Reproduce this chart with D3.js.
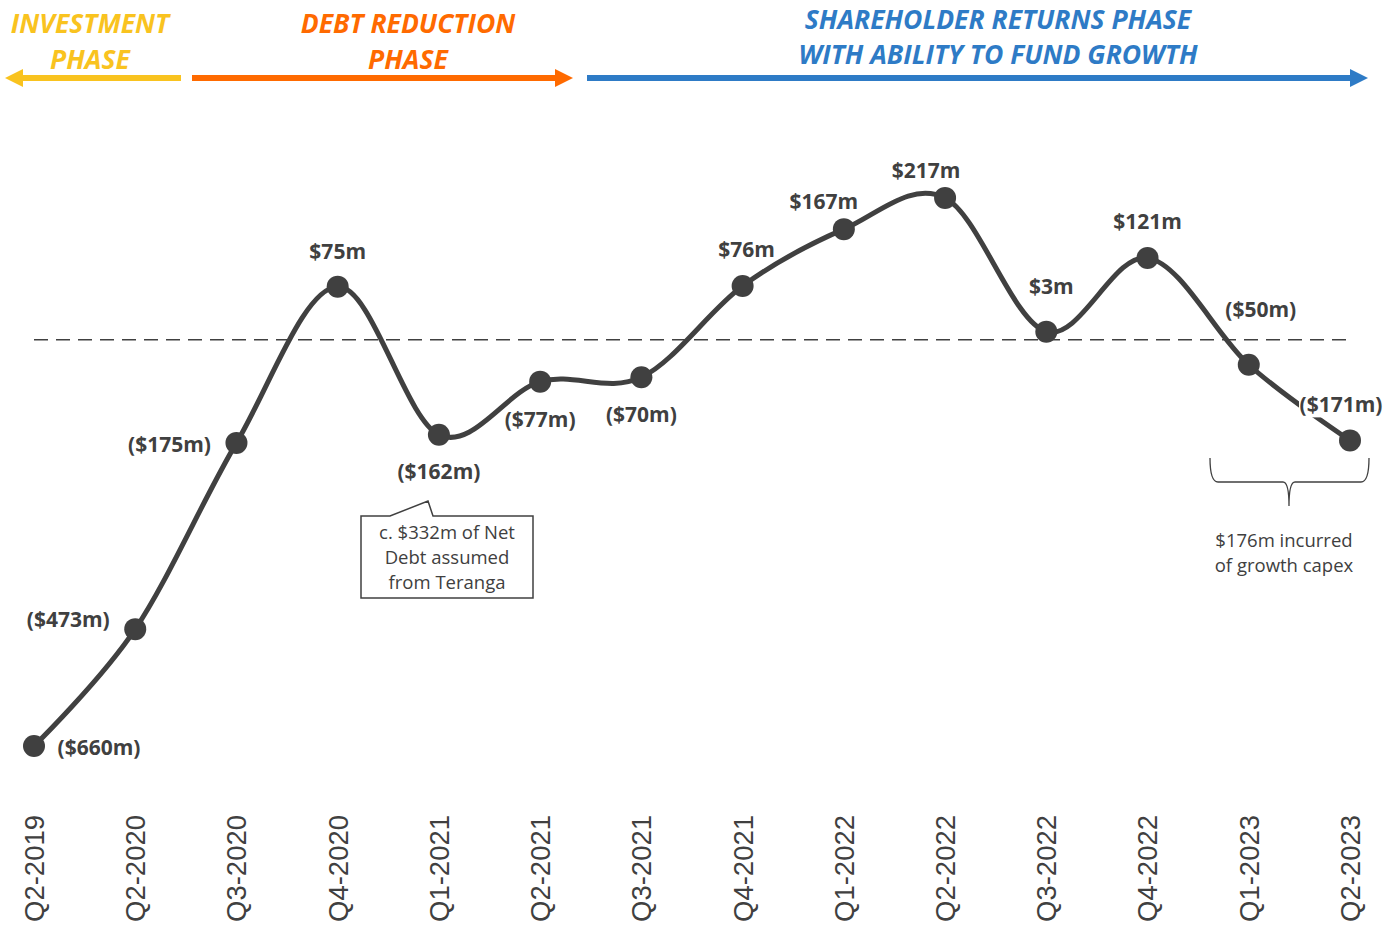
<!DOCTYPE html>
<html>
<head>
<meta charset="utf-8">
<script src="https://cdn.jsdelivr.net/npm/d3@7"></script>
<style>
  body { margin: 0; background: #fff; }
  .lbl { font-family: "Open Sans", sans-serif; font-weight: 700; font-size: 21px; fill: #404040; }
  .note { font-family: "Open Sans", sans-serif; font-size: 18.5px; fill: #404040; }
  .phase { font-family: "Open Sans", sans-serif; font-weight: 700; font-style: italic; font-size: 26.5px; }
  .tick { font-family: "Liberation Sans", Arial, sans-serif; font-size: 27.5px; fill: #404040; }
</style>
</head>
<body>
<div id="chart"></div>
<script>
// quarters on the x axis
var quarters = ["Q2-2019", "Q2-2020", "Q3-2020", "Q4-2020", "Q1-2021", "Q2-2021", "Q3-2021",
  "Q4-2021", "Q1-2022", "Q2-2022", "Q3-2022", "Q4-2022", "Q1-2023", "Q2-2023"];
// net cash (+) / net debt (-), $m
var netCash = [-660, -473, -175, 75, -162, -77, -70, 76, 167, 217, 3, 121, -50, -171];
var labels = ["($660m)", "($473m)", "($175m)", "$75m", "($162m)", "($77m)", "($70m)",
  "$76m", "$167m", "$217m", "$3m", "$121m", "($50m)", "($171m)"];
var refValue = -10;   // dashed reference line

var phases = ["INVESTMENT|PHASE", "DEBT REDUCTION|PHASE", "SHAREHOLDER RETURNS PHASE|WITH ABILITY TO FUND GROWTH"];

// label offsets from each point (layout only)
var labelOffsets = [[65, 2], [-67, -9], [-67, 2], [0, -35], [0, 37], [0, 38], [0, 37],
  [4, -36], [-20, -27], [-19, -27], [5, -45], [0, -36], [12, -55], [-9, -36]];

var svgWidth = 1386;
var svgHeight = 925;

var svg = d3.select("#chart")
  .append("svg")
  .attr("width", svgWidth)
  .attr("height", svgHeight);

var x = d3.scalePoint()
  .domain(quarters)
  .range([34, 1350]);

var y = d3.scaleLinear()
  .domain([-700, 300])
  .range([771, 146]);

var dark = "#404040";

// phase banners
var phaseDefs = [
  { x1: 181, x2: 5, cx: 90, color: "#F9C31F", y1: 33, y2: 69 },
  { x1: 192, x2: 573, cx: 408, color: "#FF6A00", y1: 33, y2: 69 },
  { x1: 587, x2: 1368, cx: 998, color: "#2E7BC6", y1: 29, y2: 64 }
];

phaseDefs.forEach(function (p, i) {
  var dir = p.x2 > p.x1 ? 1 : -1;
  var head = 16;
  svg.append("line")
    .attr("x1", p.x1).attr("x2", p.x2 - dir * head)
    .attr("y1", 78).attr("y2", 78)
    .attr("stroke", p.color)
    .attr("stroke-width", 6);
  svg.append("path")
    .attr("d", `M${p.x2},78 L${p.x2 - dir * (head + 2)},69 L${p.x2 - dir * (head + 2)},87 Z`)
    .attr("fill", p.color);
  var lines = phases[i].split("|");
  svg.append("text").attr("class", "phase").attr("fill", p.color)
    .attr("x", p.cx).attr("y", p.y1).attr("text-anchor", "middle").text(lines[0]);
  svg.append("text").attr("class", "phase").attr("fill", p.color)
    .attr("x", p.cx).attr("y", p.y2).attr("text-anchor", "middle").text(lines[1]);
});

// dashed zero-ish line
svg.append("line")
  .attr("x1", x(quarters[0])).attr("x2", x(quarters[quarters.length - 1]))
  .attr("y1", y(refValue)).attr("y2", y(refValue))
  .attr("stroke", dark)
  .attr("stroke-width", 1.5)
  .attr("stroke-dasharray", "14,8");

var data = quarters.map(function (q, i) {
  return { q: q, v: netCash[i], label: labels[i], off: labelOffsets[i] };
});

var line = d3.line()
  .x(d => x(d.q))
  .y(d => y(d.v))
  .curve(d3.curveCatmullRom.alpha(0));

svg.append("path")
  .datum(data)
  .attr("d", line)
  .attr("fill", "none")
  .attr("stroke", dark)
  .attr("stroke-width", 5);

svg.selectAll(null)
  .data(data)
  .enter()
  .append("circle")
  .attr("cx", d => x(d.q))
  .attr("cy", d => y(d.v))
  .attr("r", 11)
  .attr("fill", dark);

// labels
var lbls = svg.selectAll(null)
  .data(data)
  .enter()
  .append("g")
  .attr("transform", d => `translate(${x(d.q) + d.off[0]}, ${y(d.v) + d.off[1]})`);

lbls.filter((d, i) => i === data.length - 1)
  .append("rect")
  .attr("x", -42).attr("y", -14).attr("width", 84).attr("height", 27)
  .attr("fill", "#fff");

lbls.append("text")
  .attr("class", "lbl")
  .attr("text-anchor", "middle")
  .attr("dy", "0.35em")
  .text(d => d.label);

// x axis labels, rotated
svg.selectAll(null)
  .data(quarters)
  .enter()
  .append("text")
  .attr("class", "tick")
  .attr("transform", d => `translate(${x(d)}, 922) rotate(-90)`)
  .attr("dy", "0.36em")
  .text(d => d);

// Teranga callout
var bx = 361, by = 516, bw = 172, bh = 82;
svg.append("path")
  .attr("d", `M${bx},${by} L${bx + 29},${by} L${bx + 67},${by - 15} L${bx + 72},${by} L${bx + bw},${by} L${bx + bw},${by + bh} L${bx},${by + bh} Z`)
  .attr("fill", "#fff")
  .attr("stroke", dark)
  .attr("stroke-width", 1.5);

["c. $332m of Net", "Debt assumed", "from Teranga"].forEach(function (t, i) {
  svg.append("text").attr("class", "note")
    .attr("x", bx + 86).attr("y", 539 + i * 25)
    .attr("text-anchor", "middle").text(t);
});

// growth capex bracket
var bl = 1210, br = 1369, bt = 458, bb = 482, bm = 1289;
svg.append("path")
  .attr("d", `M${bl},${bt} Q${bl},${bb} ${bl + 8},${bb} L${bm - 6},${bb} Q${bm},${bb} ${bm},${bb + 24} Q${bm},${bb} ${bm + 6},${bb} L${br - 8},${bb} Q${br},${bb} ${br},${bt}`)
  .attr("fill", "none")
  .attr("stroke", dark)
  .attr("stroke-width", 1.3);

["$176m incurred", "of growth capex"].forEach(function (t, i) {
  svg.append("text").attr("class", "note")
    .attr("x", 1284).attr("y", 547 + i * 25)
    .attr("text-anchor", "middle").text(t);
});
</script>
</body>
</html>
